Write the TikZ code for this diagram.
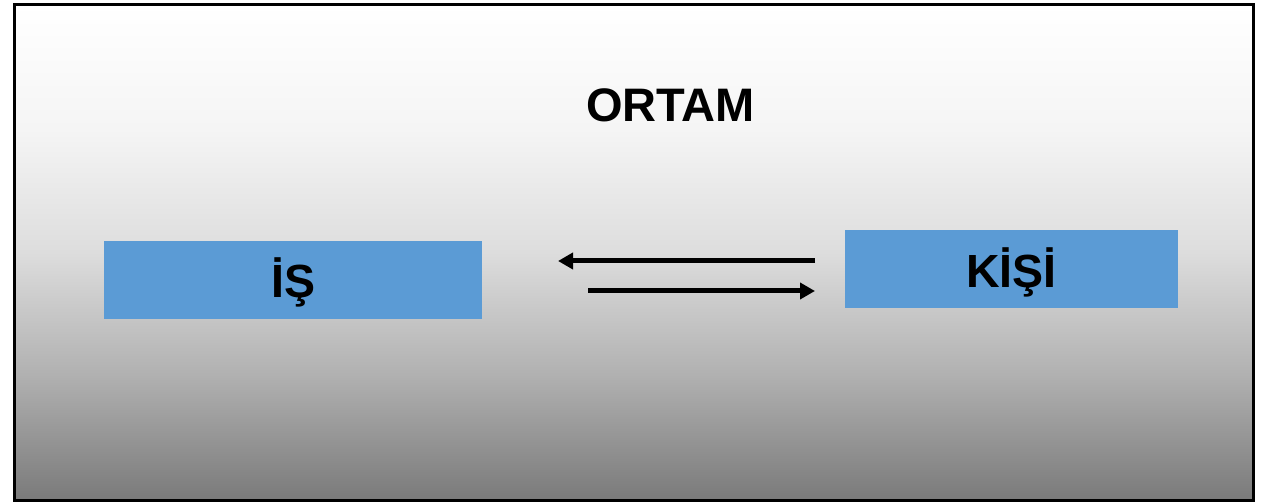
\documentclass[tikz,border=0pt]{standalone}
\usepackage{fontspec}
\setmainfont{Liberation Sans}
\usetikzlibrary{arrows.meta}
\definecolor{boxblue}{HTML}{5B9BD5}
\definecolor{gA}{HTML}{7A7A7A}
\definecolor{gB}{HTML}{B0B0B0}
\definecolor{gC}{HTML}{DDDDDD}
\definecolor{gD}{HTML}{F5F5F5}
\definecolor{gE}{HTML}{FFFFFF}
\pgfdeclareverticalshading{bgshade}{100bp}{color(0bp)=(gA); color(25bp)=(gA); color(37.5bp)=(gB); color(50bp)=(gC); color(62.5bp)=(gD); color(75bp)=(gE); color(100bp)=(gE)}
\tikzset{
  blue box/.style={fill=boxblue, draw=none, inner sep=0pt},
  lbl/.style={anchor=base, inner sep=0pt, text=black, font=\bfseries\fontsize{46.5}{56}\selectfont},
  arr/.style={line width=5pt, -{Triangle[length=15pt,width=16pt]}, black},
}
\begin{document}
\begin{tikzpicture}[x=1pt,y=-1pt]
\useasboundingbox (0,0) rectangle (1261,502);
\fill[white] (0,0) rectangle (1261,502);
\shade[shading=bgshade] (14,4.5) rectangle (1253,500.5);
\draw[line width=3pt] (14,4.5) rectangle (1253,500.5);
\node[blue box, minimum width=378pt, minimum height=78pt] (is) at (293,280) {};
\node[blue box, minimum width=333pt, minimum height=78pt] (kisi) at (1011.5,269) {};
\node[lbl] (istext) at (293.5,297.5) {İŞ};
\node[lbl] (kisitext) at (1011.5,288) {KİŞİ};
\node[lbl, font=\bfseries\fontsize{47}{56}\selectfont] (ortam) at (670.5,122) {ORTAM};
\coordinate (a1) at (815,261);
\coordinate (a2) at (558,261);
\coordinate (b1) at (588,291);
\coordinate (b2) at (815,291);
\draw[arr] (a1) -- (a2);
\draw[arr] (b1) -- (b2);
\end{tikzpicture}
\end{document}
